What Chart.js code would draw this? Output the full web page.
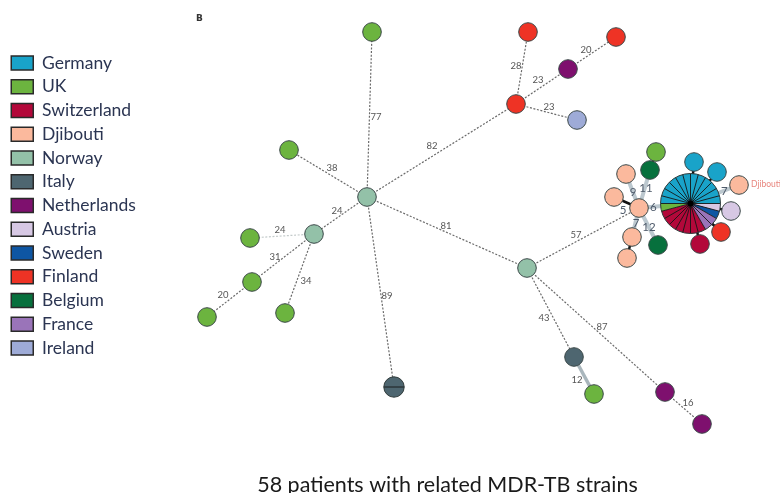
<!DOCTYPE html>
<html><head><meta charset="utf-8">
<script src="https://cdn.jsdelivr.net/npm/chart.js@4.4.1/dist/chart.umd.min.js"></script>
<style>html,body{margin:0;padding:0;background:#fff}#wrap{width:780px;height:493px;position:relative}</style>
</head><body><div id="wrap"><canvas id="c"></canvas></div>
<script>
// ---------- DATA ----------
const countries = ['Germany','UK','Switzerland','Djibouti','Norway','Italy','Netherlands','Austria','Sweden','Finland','Belgium','France','Ireland'];
const countryColors = ['#19a3c9','#6cb43f','#b3083a','#fbb99d','#93c1a8','#4e6670','#7e106e','#d7c8e4','#0e56a3','#ee3325','#07703d','#9a74b9','#9eabd7'];

// network layout positions of the nodes
const nodeX = [367,372,289,314,250,252,207,285,394,527,574,594,665,702,516,528,568,616,577,639,626,614,650,656,632,627,658,690.5,694,717,739,731,721,700];
const nodeY = [197,32,150,234,238,282,317,313,387,268,357,394,392,424,104,32,69,37,120,208,174,197,170,152,237,258,245,203.5,162,172,185,211,232,244];
const nodeCountry = ['Norway','UK','UK','Norway','UK','UK','UK','UK',null,'Norway','Italy','UK','Netherlands','Netherlands','Finland','Finland','Netherlands','Finland','Ireland','Djibouti','Djibouti','Djibouti','Belgium','UK','Djibouti','Djibouti','Belgium',null,'Germany','Germany','Djibouti','Austria','Finland','Switzerland'];

// nodes holding several patients (pie nodes)
const pieNode = [27, 8];
const pieCountries = [['Austria','Sweden','France','Switzerland','UK','Germany'], ['Italy']];
const pieCounts = [[1,1,2,7,1,12], [2]];

// edges (SNP distances)
const edgeFrom = [0,0,0,0,0,0,3,3,5,3,9,10,9,12,9,14,14,16,14,19,19,19,19,22,19,24,19,27,27,27,27,27,27];
const edgeTo   = [14,1,2,3,9,8,4,5,6,7,10,11,12,13,19,15,16,17,18,27,21,20,22,23,24,25,26,28,29,30,31,32,33];
const edgeDist = [82,77,38,24,81,89,24,31,20,34,43,12,87,16,57,28,23,20,23,6,5,9,11,null,7,null,12,null,null,7,null,null,null];
const edgeKind = ['dash','dash','dash','dash','dash','dash','faint','dash','dash','dash','dash','link','dash','dash','dash','dash','dash','dash','dash','near','close','near','near','close','near','close','near','close','close','near','close','close','close'];

// ---------- label placement (offset from edge midpoint) ----------
const labelDX = [-9.5,6.5,4,-3.5,-1,6.5,-2,-8,-6.5,6.5,-6.5,-7,6,4.5,-7,-6,-4,-6,2.5,-11.5,-3.5,0.5,1.5,0,0.5,0,0.5,0,0,9.5,0,0,0];
const labelDY = [-4.5,2.5,-5.5,-4.5,-6.5,4,-6,-1,-4.5,7.5,5.5,4.5,-3,-5,-3,-2,-6.5,-3,-5,1.5,7.5,1,-1,0,0.5,0,0.5,0,0,-3,0,0,0];

const colorOf = c => countryColors[countries.indexOf(c)];

const edgeStyles = {
  dash:  {borderColor:'#6a6a6a', borderWidth:1.2, borderDash:[2,1.6]},
  faint: {borderColor:'#c3caca', borderWidth:1.2, borderDash:[2,1.6]},
  link:  {borderColor:'#a9b6bc', borderWidth:3.5, borderDash:[]},
  near:  {borderColor:'#bcc8cf', borderWidth:4, borderDash:[]},
  close: {borderColor:'#111111', borderWidth:2.5, borderDash:[]}
};

const edgeDatasets = Object.keys(edgeStyles).map(kind => {
  const pts = [];
  edgeFrom.forEach((f, i) => {
    if (edgeKind[i] !== kind) return;
    const t = edgeTo[i];
    pts.push({x:nodeX[f], y:nodeY[f]}, {x:nodeX[t], y:nodeY[t]}, {x:null, y:null});
  });
  return Object.assign({type:'scatter', data:pts, showLine:true, spanGaps:false, pointRadius:0, order:2, clip:false}, edgeStyles[kind]);
});

const nodePts = [], nodeCols = [];
nodeX.forEach((x, i) => {
  if (nodeCountry[i] === null) return;
  nodePts.push({x, y:nodeY[i]});
  nodeCols.push(colorOf(nodeCountry[i]));
});

const piePlugin = {
  id:'pies',
  afterDatasetsDraw(chart) {
    const {ctx, scales:{x, y}} = chart;
    ctx.save();
    pieNode.forEach((ni, k) => {
      const cx = x.getPixelForValue(nodeX[ni]), cy = y.getPixelForValue(nodeY[ni]);
      const counts = pieCounts[k];
      const total = counts.reduce((a,b)=>a+b,0);
      const r = 9.3 + 0.9*(total-1);
      const step = 2*Math.PI/total;
      let a = 0;
      counts.forEach((n, j) => {
        ctx.beginPath(); ctx.moveTo(cx,cy); ctx.arc(cx,cy,r,a,a+n*step); ctx.closePath();
        ctx.fillStyle = colorOf(pieCountries[k][j]); ctx.fill();
        a += n*step;
      });
      ctx.strokeStyle = '#151515'; ctx.lineWidth = 0.9;
      for (let s=0; s<total; s++) {
        ctx.beginPath(); ctx.moveTo(cx,cy);
        ctx.lineTo(cx + r*Math.cos(s*step), cy + r*Math.sin(s*step)); ctx.stroke();
      }
      ctx.beginPath(); ctx.arc(cx,cy,r,0,2*Math.PI);
      ctx.strokeStyle='#2f3a3a'; ctx.lineWidth=1; ctx.stroke();
      if (total > 2) { ctx.beginPath(); ctx.arc(cx,cy,3,0,2*Math.PI); ctx.fillStyle='#000'; ctx.fill(); }
    });
    // distance labels
    ctx.textAlign='center'; ctx.textBaseline='middle';
    edgeFrom.forEach((f, i) => {
      if (edgeDist[i] === null) return;
      const t = edgeTo[i];
      const mx = (x.getPixelForValue(nodeX[f]) + x.getPixelForValue(nodeX[t]))/2 + labelDX[i];
      const my = (y.getPixelForValue(nodeY[f]) + y.getPixelForValue(nodeY[t]))/2 + labelDY[i];
      const big = edgeKind[i] === 'near' || edgeKind[i] === 'close';
      ctx.font = big ? '11.5px Lato' : '9.5px Lato';
      ctx.fillStyle = big ? '#4e5a6a' : '#555555';
      ctx.fillText(String(edgeDist[i]), mx, my);
    });
    // annotations
    ctx.textAlign='left';
    ctx.font='bold 9px "DejaVu Sans"'; ctx.fillStyle='#333';
    ctx.fillText('B', 196, 19);
    ctx.font='8.5px Lato'; ctx.fillStyle='#e8877f';
    ctx.fillText('Djibouti', x.getPixelForValue(nodeX[30]) + 12, y.getPixelForValue(nodeY[30]) - 1);
    ctx.restore();
  }
};

const chart = new Chart(document.getElementById('c'), {
  type:'scatter',
  data:{datasets:[
    {data:nodePts, pointRadius:9.3, pointBackgroundColor:nodeCols, pointBorderColor:'#3b4848', pointBorderWidth:1, order:1, clip:false},
    ...edgeDatasets
  ]},
  options:{
    responsive:true, maintainAspectRatio:false, animation:false, events:[],
    layout:{padding:{left:5, top:0, right:31, bottom:0}},
    scales:{
      x:{type:'linear', display:false},
      y:{type:'linear', display:false, reverse:true}
    },
    plugins:{
      tooltip:{enabled:false},
      legend:{
        position:'left', align:'start',
        title:{display:true, text:'', font:{size:10, lineHeight:1.2}, padding:{top:36, bottom:0}},
        labels:{
          boxWidth:22, boxHeight:14, padding:6.25,
          font:{family:'Lato', size:17.5}, color:'#2b3552',
          generateLabels:() => countries.map((c,i) => ({text:c, fillStyle:countryColors[i], strokeStyle:'#2a2a2a', fontColor:'#2b3552', lineWidth:1.5, hidden:false, index:i}))
        }
      },
      title:{
        display:true, position:'bottom', fullSize:false,
        text:'58 patients with related MDR-TB strains',
        font:{family:'Lato', size:21.5, weight:'normal', lineHeight:0.7}, color:'#1a1a1a',
        padding:{top:4, bottom:0}
      }
    }
  },
  plugins:[piePlugin]
});
// map layout units 1:1 onto the plot area
const ca = chart.chartArea;
chart.options.scales.x.min = ca.left; chart.options.scales.x.max = ca.right;
chart.options.scales.y.min = ca.top; chart.options.scales.y.max = ca.bottom;
chart.update('none');
</script></body></html>
